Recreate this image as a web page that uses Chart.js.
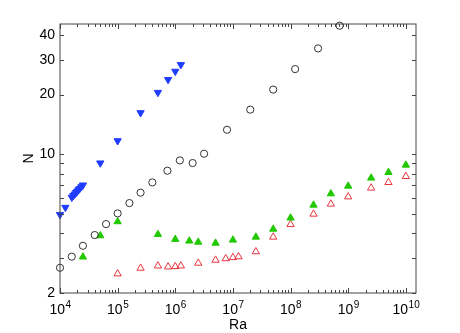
<!DOCTYPE html>
<html>
<head>
<meta charset="utf-8">
<script src="https://cdn.jsdelivr.net/npm/chart.js@4.4.1/dist/chart.umd.min.js"></script>
<style>
  body { margin: 0; background: #fff; }
  canvas { display: block; }
</style>
</head>
<body>
<canvas id="chart" width="460" height="333"></canvas>
<script>
// data
const blueRa = [1e4, 1.24e4, 1.6e4, 1.7e4, 1.8e4, 1.9e4, 2.0e4, 2.1e4, 2.2e4, 2.35e4, 2.5e4, 5e4, 1e5, 2.5e5, 5e5, 7.5e5, 1e6, 1.25e6];
const blueN = [4.97, 5.40, 6.07, 6.19, 6.30, 6.41, 6.52, 6.62, 6.72, 6.86, 7.00, 9.04, 11.7, 16.2, 20.5, 23.8, 26.2, 28.3];

const circleRa = [1e4, 1.6e4, 2.5e4, 4e4, 6.3e4, 1e5, 1.6e5, 2.5e5, 4e5, 7.3e5, 1.2e6, 2e6, 3.16e6, 7.9e6, 2e7, 5e7, 1.2e8, 3e8, 7.1e8];
const circleN = [2.68, 3.05, 3.46, 3.92, 4.45, 5.04, 5.68, 6.41, 7.22, 8.27, 9.32, 9.04, 10.07, 13.3, 16.8, 21.2, 26.9, 34.2, 44.5];

const greenRa = [2.5e4, 5e4, 1e5, 5e5, 1e6, 1.75e6, 2.5e6, 5e6, 1e7, 2.5e7, 5e7, 1e8, 2.5e8, 5e8, 1e9, 2.5e9, 5e9, 1e10];
const greenN = [3.04, 3.89, 4.58, 3.95, 3.73, 3.66, 3.61, 3.57, 3.70, 3.83, 4.20, 4.78, 5.55, 6.33, 6.92, 7.60, 8.11, 8.83];

const redRa = [1e5, 2.5e5, 5e5, 7.5e5, 1e6, 1.25e6, 2.5e6, 5e6, 7.5e6, 1e7, 1.25e7, 2.5e7, 5e7, 1e8, 2.5e8, 5e8, 1e9, 2.5e9, 5e9, 1e10];
const redN = [2.50, 2.67, 2.74, 2.71, 2.72, 2.74, 2.83, 2.93, 2.98, 3.02, 3.05, 3.23, 3.83, 4.43, 5.00, 5.62, 6.11, 6.77, 7.22, 7.74];

// tick labels
const xExponents = [4, 5, 6, 7, 8, 9, 10];
const yLabels = [2, 10, 20, 30, 40];
const yMinor = [3, 4, 5, 6, 7, 8, 9];

function toPoints(xs, ys) {
    return xs.map((x, i) => ({ x: x, y: ys[i] }));
}

// frame, inward ticks and tick labels drawn from the scales
const framePlugin = {
    id: 'frame',
    afterDatasetsDraw(chart) {
        const ctx = chart.ctx;
        const a = chart.chartArea;
        const xs = chart.scales.x;
        const ys = chart.scales.y;
        ctx.save();
        ctx.strokeStyle = '#444';
        ctx.lineWidth = 1;
        ctx.strokeRect(a.left, a.top, a.right - a.left, a.bottom - a.top);

        ctx.beginPath();
        // x ticks, bottom and top
        xExponents.forEach(e => {
            for (let m = 1; m <= 9; m++) {
                const v = m * Math.pow(10, e);
                if (v > xs.max) break;
                const px = Math.round(xs.getPixelForValue(v)) + 0.5;
                const len = m === 1 ? 5 : 3;
                ctx.moveTo(px, a.bottom); ctx.lineTo(px, a.bottom - len);
                ctx.moveTo(px, a.top); ctx.lineTo(px, a.top + len);
            }
        });
        // y ticks, left and right
        yLabels.concat(yMinor).forEach(v => {
            const py = Math.round(ys.getPixelForValue(v)) + 0.5;
            const len = 4;
            ctx.moveTo(a.left, py); ctx.lineTo(a.left + len, py);
            ctx.moveTo(a.right, py); ctx.lineTo(a.right - len, py);
        });
        ctx.stroke();

        ctx.fillStyle = '#000';
        // y labels
        ctx.font = '14px "Liberation Sans", Arial, sans-serif';
        ctx.textAlign = 'right';
        ctx.textBaseline = 'middle';
        yLabels.forEach(v => {
            ctx.fillText(String(v), a.left - 5, ys.getPixelForValue(v));
        });

        // x labels 10^n
        ctx.textAlign = 'left';
        ctx.textBaseline = 'alphabetic';
        xExponents.forEach(e => {
            const px = xs.getPixelForValue(Math.pow(10, e));
            ctx.font = '14px "Liberation Sans", Arial, sans-serif';
            const w1 = ctx.measureText('10').width;
            ctx.font = '10px "Liberation Sans", Arial, sans-serif';
            const w2 = ctx.measureText(String(e)).width;
            const x0 = px - (w1 + w2) / 2;
            ctx.font = '14px "Liberation Sans", Arial, sans-serif';
            ctx.fillText('10', x0, a.bottom + 21);
            ctx.font = '10px "Liberation Sans", Arial, sans-serif';
            ctx.fillText(String(e), x0 + w1 + 0.5, a.bottom + 15);
        });

        // axis titles
        ctx.font = '14px "Liberation Sans", Arial, sans-serif';
        ctx.textAlign = 'center';
        ctx.fillText('Ra', (a.left + a.right) / 2, a.bottom + 36);
        ctx.save();
        ctx.translate(33, (a.top + a.bottom) / 2);
        ctx.rotate(-Math.PI / 2);
        ctx.fillText('N', 0, 0);
        ctx.restore();
        ctx.restore();
    }
};

const chart = new Chart(document.getElementById('chart'), {
    type: 'scatter',
    data: {
        datasets: [
            {
                data: toPoints(circleRa, circleN),
                pointStyle: 'circle',
                pointRadius: 3.6,
                borderColor: '#333',
                borderWidth: 1,
                backgroundColor: 'rgba(0,0,0,0)',
                clip: false
            },
            {
                data: toPoints(blueRa, blueN),
                pointStyle: 'triangle',
                rotation: 180,
                pointRadius: 4.2,
                borderColor: '#1f3dff',
                borderWidth: 1,
                backgroundColor: '#1f3dff',
                clip: false
            },
            {
                data: toPoints(greenRa, greenN),
                pointStyle: 'triangle',
                pointRadius: 4.2,
                borderColor: '#22c800',
                borderWidth: 1,
                backgroundColor: '#22c800',
                clip: false
            },
            {
                data: toPoints(redRa, redN),
                pointStyle: 'triangle',
                pointRadius: 4.2,
                borderColor: '#e8343c',
                borderWidth: 1,
                backgroundColor: 'rgba(0,0,0,0)',
                clip: false
            }
        ]
    },
    options: {
        responsive: false,
        animation: false,
        layout: { padding: { left: 0, right: 44, top: 24, bottom: 0 } },
        plugins: {
            legend: { display: false },
            tooltip: { enabled: false }
        },
        scales: {
            x: {
                type: 'logarithmic',
                min: 1e4,
                max: 1.5e10,
                grid: { display: false },
                border: { display: false },
                ticks: { display: false },
                afterFit: s => { s.height = 40; }
            },
            y: {
                type: 'logarithmic',
                min: 2,
                max: 45.4,
                grid: { display: false },
                border: { display: false },
                ticks: { display: false },
                afterFit: s => { s.width = 60; }
            }
        }
    },
    plugins: [framePlugin]
});
</script>
</body>
</html>
